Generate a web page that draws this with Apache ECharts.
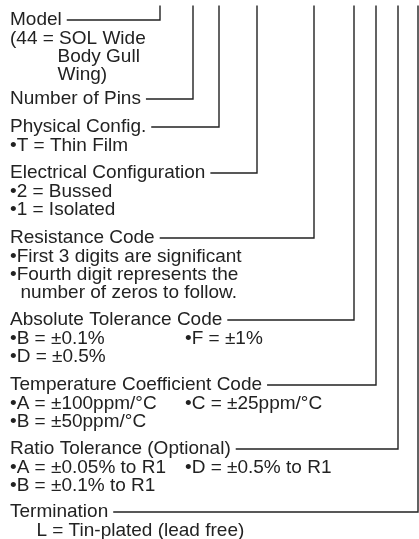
<!DOCTYPE html>
<html>
<head>
<meta charset="utf-8">
<script src="https://cdn.jsdelivr.net/npm/echarts@6/dist/echarts.min.js"></script>
<style>
html, body { margin: 0; padding: 0; background: #fff; }
#chart { width: 419px; height: 539px; }
</style>
</head>
<body>
<div id="chart"></div>
<script>
// part number fields, in the order their leader lines run left to right
const fieldNames = [
  "Model",
  "Number of Pins",
  "Physical Config.",
  "Electrical Configuration",
  "Resistance Code",
  "Absolute Tolerance Code",
  "Temperature Coefficient Code",
  "Ratio Tolerance (Optional)",
  "Termination",
];
// where each leader rises to the part number (axis units)
const leaderX = [160, 193, 219, 257, 314, 354, 376, 398, 418];
// row of each heading (axis units, top = 0)
const headingY = [20, 99, 127, 173, 238, 320, 385, 449, 512];
// option lines under each heading, a pair = two columns
const fieldNotes = [
  ["(44 = SOL Wide", "         Body Gull", "         Wing)"],
  [],
  ["•T = Thin Film"],
  ["•2 = Bussed", "•1 = Isolated"],
  ["•First 3 digits are significant", "•Fourth digit represents the", "  number of zeros to follow."],
  [["•B = ±0.1%", "•F = ±1%"], ["•D = ±0.5%"]],
  [["•A = ±100ppm/°C", "•C = ±25ppm/°C"], ["•B = ±50ppm/°C"]],
  [["•A = ±0.05% to R1", "•D = ±0.5% to R1"], ["•B = ±0.1% to R1"]],
  ["     L = Tin-plated (lead free)"],
];

const FONT = '19px "Liberation Sans", Arial, sans-serif';
const INK = "#222";
const LINE_STEP = 18.4;
const TEXT_X = 10;
const COL2_X = 185;
const LEADER_TOP = 5.5;
const GAP = 5;

const measure = document.createElement("canvas").getContext("2d");
measure.font = FONT;

// every text row: [x, y, string]
const textRows = [];
fieldNames.forEach((name, i) => {
  textRows.push([TEXT_X, headingY[i], name]);
  fieldNotes[i].forEach((line, k) => {
    const y = headingY[i] + (k + 1) * LINE_STEP;
    if (Array.isArray(line)) {
      textRows.push([TEXT_X, y, line[0]]);
      if (line[1]) textRows.push([COL2_X, y, line[1]]);
    } else {
      textRows.push([TEXT_X, y, line]);
    }
  });
});

const chart = echarts.init(document.getElementById("chart"));
chart.setOption({
  animation: false,
  grid: { left: 0, right: 0, top: 0, bottom: 0 },
  xAxis: { type: "value", min: 0, max: 419, show: false },
  yAxis: { type: "value", min: 0, max: 539, inverse: true, show: false },
  series: [
    {
      // leader lines: heading -> corner -> up to the part number
      type: "custom",
      data: fieldNames.map((n, i) => [leaderX[i], headingY[i], i]),
      renderItem: function (params, api) {
        const i = api.value(2);
        const corner = api.coord([api.value(0), api.value(1)]);
        const top = api.coord([api.value(0), LEADER_TOP]);
        const start = api.coord([TEXT_X, api.value(1)]);
        const x0 = start[0] + measure.measureText(fieldNames[i]).width + GAP;
        return {
          type: "polyline",
          shape: { points: [[x0, corner[1]], corner, top] },
          style: { stroke: INK, lineWidth: 1.4, fill: null },
        };
      },
    },
    {
      type: "custom",
      data: textRows.map((r, i) => [r[0], r[1], i]),
      renderItem: function (params, api) {
        const p = api.coord([api.value(0), api.value(1)]);
        return {
          type: "text",
          style: {
            x: p[0],
            y: p[1],
            text: textRows[api.value(2)][2],
            font: FONT,
            fill: INK,
            align: "left",
            verticalAlign: "middle",
          },
        };
      },
    },
  ],
});
</script>
</body>
</html>
